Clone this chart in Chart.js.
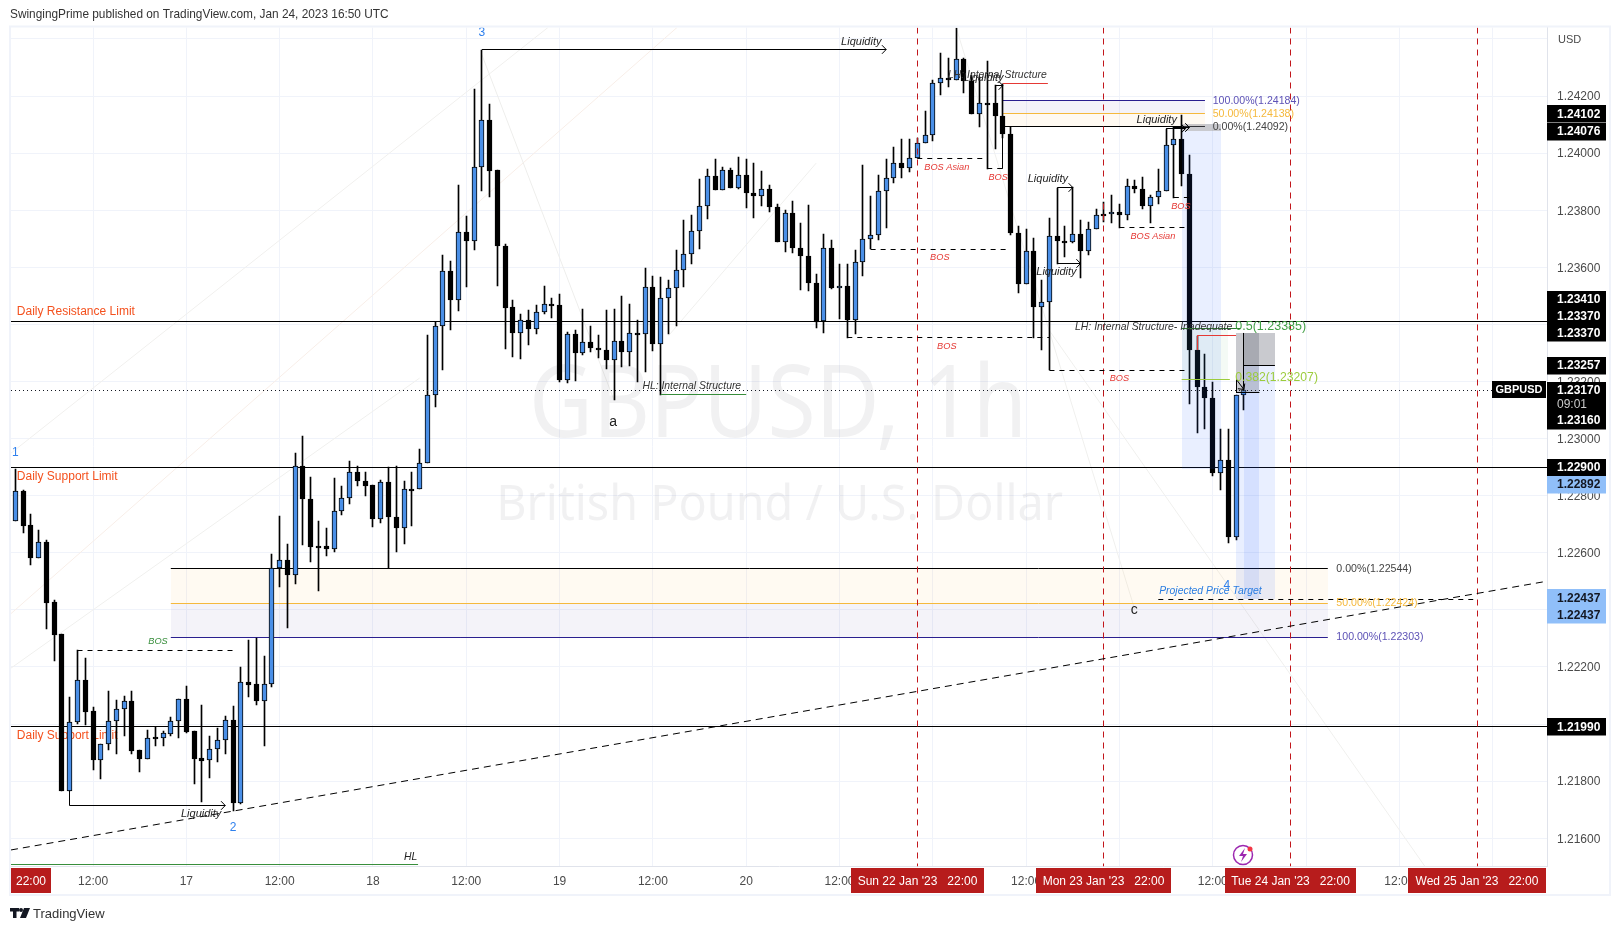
<!DOCTYPE html>
<html><head><meta charset="utf-8">
<style>html,body{margin:0;padding:0;background:#fff}canvas{display:block}</style>
<script src="https://cdn.jsdelivr.net/npm/chart.js@4/dist/chart.umd.min.js"></script>
</head><body><canvas id="c" width="1621" height="931"></canvas>
<script>
const opens=[1.22713,1.22816,1.22697,1.22582,1.22637,1.22427,1.22314,1.21767,1.22006,1.22154,1.22046,1.21874,1.21929,1.22010,1.22051,1.22080,1.21909,1.21879,1.21953,1.21950,1.21966,1.22010,1.22086,1.21976,1.21880,1.21873,1.21911,1.21943,1.22013,1.21725,1.22149,1.22139,1.22082,1.22142,1.22548,1.22576,1.22523,1.22905,1.22790,1.22625,1.22625,1.22614,1.22748,1.22793,1.22884,1.22853,1.22836,1.22720,1.22849,1.22727,1.22687,1.22825,1.22824,
1.22916,1.23154,1.23396,1.23588,1.23487,1.23725,1.23692,1.23951,1.24117,1.23942,1.23675,1.23460,1.23370,1.23417,1.23384,1.23445,1.23473,1.23467,1.23205,1.23368,1.23300,1.23340,1.23318,1.23312,1.23277,1.23343,1.23303,1.23371,1.23366,1.23532,1.23331,1.23494,1.23529,1.23592,1.23648,1.23728,1.23816,1.23921,1.23872,1.23942,1.23877,1.23924,1.23861,1.23849,1.23875,1.23812,1.23688,1.23791,1.23668,1.23640,1.23546,
1.23411,1.23669,1.23527,1.23536,1.23415,1.23620,1.23700,1.23714,1.23868,1.23914,1.23966,1.23947,1.23984,1.24036,1.24064,1.24246,1.24264,1.24257,1.24330,1.24253,1.24136,1.24176,1.24176,1.24130,1.24067,1.23721,1.23541,1.23658,1.23461,1.23478,1.23711,1.23693,1.23690,1.23718,1.23657,1.23735,1.23788,1.23788,1.23795,1.23783,1.23884,1.23875,1.23814,1.23847,1.23867,1.24029,1.24050,1.23927,1.23311,1.23182,1.23142,1.22881,1.22926,1.22656,1.23151];
const highs=[1.22892,1.22821,1.22735,1.22679,1.22644,1.22434,1.22314,1.22096,1.22259,1.22231,1.22061,1.21929,1.22116,1.22084,1.22098,1.22116,1.21909,1.21979,1.21991,1.21976,1.22023,1.22086,1.22133,1.21976,1.22067,1.21958,1.21986,1.22028,1.22063,1.22200,1.22294,1.22303,1.22238,1.22594,1.22728,1.22630,1.22949,1.23008,1.22865,1.22711,1.22686,1.22861,1.22833,1.22921,1.22905,1.22882,1.22836,1.22854,1.22901,1.22905,1.22851,1.22883,1.22965,
1.23362,1.23407,1.23642,1.23621,1.23887,1.23778,1.24223,1.24362,1.24173,1.23942,1.23683,1.23487,1.23438,1.23449,1.23467,1.23533,1.23491,1.23505,1.23372,1.23382,1.23455,1.23393,1.23362,1.23449,1.23455,1.23498,1.23470,1.23414,1.23596,1.23568,1.23566,1.23554,1.23659,1.23764,1.23782,1.23908,1.23945,1.23978,1.23951,1.23949,1.23985,1.23978,1.23964,1.23939,1.23887,1.23820,1.23799,1.23831,1.23755,1.23817,1.23578,
1.23715,1.23694,1.23610,1.23613,1.23662,1.23960,1.23848,1.23925,1.23980,1.24021,1.24048,1.24048,1.24054,1.24149,1.24257,1.24350,1.24332,1.24440,1.24333,1.24272,1.24266,1.24321,1.24237,1.24243,1.24091,1.23743,1.23733,1.23704,1.23557,1.23774,1.23879,1.23743,1.23881,1.23764,1.23757,1.23805,1.23828,1.23855,1.23823,1.23910,1.23907,1.23916,1.23855,1.23943,1.24086,1.24091,1.24134,1.23994,1.23360,1.23295,1.23197,1.23035,1.23035,1.23151,1.23183];
const lows=[1.22713,1.22670,1.22557,1.22582,1.22333,1.22222,1.21767,1.21767,1.22000,1.21997,1.21839,1.21808,1.21909,1.21895,1.21958,1.21895,1.21832,1.21877,1.21923,1.21923,1.21958,1.21952,1.21970,1.21790,1.21727,1.21811,1.21867,1.21895,1.21697,1.21720,1.22096,1.22067,1.21923,1.22130,1.22481,1.22336,1.22490,1.22627,1.22567,1.22467,1.22588,1.22602,1.22732,1.22770,1.22833,1.22798,1.22691,1.22705,1.22545,1.22602,1.22630,1.22693,1.22822,
1.22916,1.23111,1.23239,1.23379,1.23446,1.23531,1.23659,1.23867,1.23846,1.23534,1.23314,1.23286,1.23279,1.23327,1.23365,1.23438,1.23422,1.23197,1.23193,1.23202,1.23293,1.23305,1.23281,1.23244,1.23134,1.23251,1.23254,1.23198,1.23233,1.23307,1.23154,1.23368,1.23394,1.23531,1.23610,1.23663,1.23768,1.23872,1.23872,1.23877,1.23873,1.23806,1.23772,1.23813,1.23793,1.23688,1.23653,1.23650,1.23519,1.23516,1.23389,
1.23370,1.23524,1.23419,1.23354,1.23365,1.23568,1.23664,1.23694,1.23737,1.23897,1.23912,1.23935,1.23984,1.24036,1.24042,1.24205,1.24231,1.24257,1.24210,1.24136,1.24091,1.23945,1.24014,1.24052,1.23712,1.23510,1.23541,1.23354,1.23312,1.23239,1.23613,1.23636,1.23685,1.23562,1.23643,1.23735,1.23760,1.23754,1.23739,1.23764,1.23860,1.23804,1.23755,1.23820,1.23867,1.23844,1.23884,1.23122,1.23020,1.23035,1.22869,1.22819,1.22635,1.22646,1.23099];
const closes=[1.22816,1.22694,1.22582,1.22636,1.22425,1.22312,1.21767,1.22006,1.22154,1.22043,1.21874,1.21929,1.22010,1.22051,1.22079,1.21906,1.21879,1.21950,1.21948,1.21967,1.22010,1.22086,1.21972,1.21879,1.21872,1.21911,1.21943,1.22013,1.21725,1.22149,1.22138,1.22082,1.22142,1.22548,1.22576,1.22523,1.22905,1.22789,1.22621,1.22620,1.22614,1.22748,1.22793,1.22884,1.22852,1.22834,1.22719,1.22849,1.22726,1.22687,1.22825,1.22823,1.22915,
1.23154,1.23396,1.23588,1.23484,1.23725,1.23692,1.23951,1.24117,1.23939,1.23674,1.23457,1.23370,1.23417,1.23384,1.23445,1.23473,1.23464,1.23204,1.23368,1.23300,1.23340,1.23317,1.23312,1.23277,1.23343,1.23303,1.23371,1.23366,1.23532,1.23331,1.23494,1.23529,1.23592,1.23648,1.23728,1.23816,1.23921,1.23872,1.23942,1.23877,1.23924,1.23860,1.23849,1.23875,1.23811,1.23688,1.23791,1.23667,1.23639,1.23545,1.23410,
1.23669,1.23526,1.23536,1.23414,1.23620,1.23700,1.23714,1.23868,1.23914,1.23966,1.23947,1.23984,1.24036,1.24064,1.24246,1.24264,1.24257,1.24330,1.24253,1.24136,1.24176,1.24175,1.24129,1.24066,1.23720,1.23541,1.23658,1.23461,1.23478,1.23711,1.23693,1.23690,1.23718,1.23657,1.23735,1.23784,1.23784,1.23795,1.23783,1.23884,1.23874,1.23814,1.23847,1.23867,1.24029,1.24050,1.23926,1.23310,1.23181,1.23142,1.22881,1.22926,1.22656,1.23151,1.23170];

const xTickBars=[10,22,34,46,58,70,82,94,106,118,130,142,154,166,178,190];
const xTickLabels=['12:00','17','12:00','18','12:00','19','12:00','20','12:00','23','12:00','24','12:00','25','12:00',''];
const yTickPrices=[1.244,1.242,1.24,1.238,1.236,1.234,1.232,1.23,1.228,1.226,1.224,1.222,1.22,1.218,1.216];
const yTickLabels=['','1.24200','1.24000','1.23800','1.23600','1.23400','1.23200','1.23000','1.22800','1.22600','1.22400','1.22200','1.22000','1.21800','1.21600'];

const levelPrices=[1.2341,1.229,1.2199];
const lastPrice=1.2317;
const sessionBars=[116,140,164,188];
const sessionLabels=["Sun 22 Jan '23   22:00","Mon 23 Jan '23   22:00","Tue 24 Jan '23   22:00","Wed 25 Jan '23   22:00"];

const NAVY='rgba(49,27,146,.05)',GOLD='rgba(255,183,77,.07)',GREY='rgba(120,123,134,.4)',BLUE='rgba(41,98,255,.1)',PALE='rgba(76,175,80,.06)';
// fib bands sit under the candles
const bandBars0=[127,127,20,20];
const bandBars1=[153,153,168.8,168.8];
const bandTop=[1.24184,1.24138,1.22544,1.22424];
const bandBottom=[1.24138,1.24092,1.22424,1.22303];
const bandFill=[NAVY,GOLD,GOLD,NAVY];
// position tools sit over the candles
const boxBars0=[150,150,150,157,157,158,158];
const boxBars1=[155,155,156,160,160,162,162];
const boxTop=[1.24102,1.24076,1.23385,1.2337,1.2316,1.2337,1.23257];
const boxBottom=[1.24076,1.22892,1.23207,1.2316,1.22437,1.23257,1.22437];
const boxFill=[GREY,BLUE,PALE,GREY,BLUE,GREY,BLUE];

const K='#000',R='#e53935',G='#388e3c',N='#2a1f8f',O='#f5b93d',LG='#9ccc3c',DG='#2e7d32';
const fibLines=[
[127,1.24184,153,1.24184,N],[127,1.24138,153,1.24138,O],[127,1.24092,153,1.24092,K],
[20,1.22544,168.8,1.22544,K],[20,1.22424,168.8,1.22424,O],[20,1.22303,168.8,1.22303,N]];
// bar0, price0, bar1, price1, colour, kind: s solid, d dashed, a arrow, t trend
const drawn=[
[60,1.24362,112,1.24362,K,'a'],[7,1.21767,7,1.21714,K,'s'],[7,1.21714,27,1.21714,K,'a'],
[8,1.22259,28.5,1.22259,K,'d'],[83,1.23154,94,1.23154,G,'s'],[-0.55,1.21507,51.8,1.21507,G,'s'],
[116,1.2398,125,1.2398,K,'d'],[125,1.23945,127,1.23945,K,'d'],[127,1.24243,127,1.23945,K,'s'],
[127,1.24243,132.8,1.24243,R,'s'],[126,1.24237,127,1.24237,K,'a'],[126,1.24237,126,1.24176,K,'s'],
[110,1.23664,128,1.23664,K,'d'],[107,1.23354,133,1.23354,K,'d'],[133,1.23238,151,1.23238,K,'d'],
[134,1.23879,136,1.23879,K,'a'],[136,1.23879,136,1.23718,K,'s'],[134,1.23613,137,1.23613,K,'a'],
[142,1.23739,151,1.23739,K,'d'],[149,1.23844,151,1.23844,K,'d'],[148,1.24086,150.5,1.24086,K,'a'],[149,1.24091,151,1.24091,K,'a'],
[150,1.23385,157.6,1.23385,DG,'s'],[150,1.23207,156.2,1.23207,LG,'s'],
[152,1.2336,157,1.2336,R,'s'],[152,1.2336,152,1.2331,R,'s'],
[158,1.2337,158,1.23183,K,'s'],[158,1.23257,162,1.23257,K,'s'],[157,1.2316,160,1.2316,K,'s'],[157,1.23207,157,1.2316,K,'s'],[157.1,1.23205,158,1.23172,K,'a'],
[147,1.22437,187.5,1.22437,K,'d'],[-0.55,1.21559,196.5,1.22498,K,'t']];

const faintBar0=[-0.55,-0.55,-0.55,84,60,121,133];
const faintP0=[1.22949,1.22387,1.22196,1.2336,1.24345,1.2444,1.23378];
const faintBar1=[68.5,85.1,52,103,77,144,181.3];
const faintP1=[1.2444,1.2444,1.23212,1.23965,1.23135,1.22399,1.21501];
const faintColor=['#f1f0ee','#f8eee8','#f0f0ee','#f0f0ee','#eeeeec','#f0f0ee','#f0f0ee'];

const FF='"Liberation Sans"';
const IT='italic 11px '+FF,IS='italic 10.4px '+FF,IB='italic 9.2px '+FF,TX='12px '+FF,FB='10.6px '+FF;
const dailyNotes=[
['Daily Resistance Limit',0.2,1.23445,'#f4511e',TX,'left'],['Daily Support Limit',0.2,1.22868,'#f4511e',TX,'left'],['Daily Support Limit',0.2,1.21959,'#f4511e',TX,'left']];
// text, bar, price, colour, font, align
const notes=[
['Liquidity',108.8,1.24388,'#222',IT,'center'],['Liquidity',23.9,1.21686,'#222',IT,'center'],
['BOS',18.35,1.22288,G,IB,'center'],['HL: Internal Structure',87,1.23184,'#333',IS,'center'],['HL',50.85,1.21535,'#222',IS,'center'],
['1',0,1.22952,'#2f80ed',TX,'center'],['2',28,1.21636,'#2f80ed',TX,'center'],['3',60,1.24423,'#2f80ed',TX,'center'],['4',155.8,1.22483,'#2f80ed',TX,'center'],
['Projected Price Target',153.7,1.22467,'#2a7de1',IS,'center'],['c',143.9,1.22399,'#222','14px '+FF,'center'],['a',76.9,1.23057,'#222','14px '+FF,'center'],
['BOS Asian',119.8,1.23951,R,IB,'center'],['BOS',126.4,1.23916,R,IB,'center'],['LH: Internal Structure',126.3,1.24273,'#333',IS,'center'],['Liquidity',124.5,1.24262,'#222',IT,'center'],
['BOS',118.9,1.23636,R,IB,'center'],['BOS',119.8,1.23324,R,IB,'center'],['BOS',142,1.23209,R,IB,'center'],['Liquidity',132.8,1.23909,'#222',IT,'center'],['Liquidity',133.9,1.23583,'#222',IT,'center'],
['BOS Asian',146.3,1.23709,R,IB,'center'],['BOS',149.9,1.23814,R,IB,'center'],['Liquidity',146.8,1.24116,'#222',IT,'center'],['LH: Internal Structure- Inadequate',146.4,1.23391,'#333',IS,'center'],
['100.00%(1.24184)',154,1.24184,'#5d52b6',FB,'left'],['50.00%(1.24138)',154,1.24138,'#f5b93d',FB,'left'],['0.00%(1.24092)',154,1.24092,'#444',FB,'left'],
['0.00%(1.22544)',169.9,1.22544,'#444',FB,'left'],['50.00%(1.22424)',169.9,1.22424,'#f5b93d',FB,'left'],['100.00%(1.22303)',169.9,1.22303,'#5d52b6',FB,'left'],
['0.5(1.23385)',156.9,1.23392,'#43a047','12.5px '+FF,'left'],['0.382(1.23207)',156.9,1.23212,'#9ccc3c','12.2px '+FF,'left']];

// text, price, shift, background, foreground
const priceTags=[['1.24102',1.24102,-10,'#000','#fff'],['1.24076',1.24076,0,'#000','#fff'],['1.23410',1.2341,-22.5,'#000','#fff'],['1.23370',1.2337,-17,'#000','#fff'],['1.23370',1.2337,0,'#000','#fff'],['1.23257',1.23257,0,'#000','#fff'],['1.23170',1.2317,0,'#000','#fff'],['09:01',1.2317,14.5,'#000','#ccc'],['1.23160',1.2316,27.7,'#000','#fff'],['1.22900',1.229,0,'#000','#fff'],['1.22892',1.22892,14.8,'#90bff9','#131722'],['1.22437',1.22437,-1.4,'#90bff9','#131722'],['1.22437',1.22437,15.6,'#90bff9','#131722'],['1.21990',1.2199,0,'#000','#fff']];

const UP='#4a8fe7',DOWN='#000';
const idx=opens.map((_,i)=>i);
const colors=idx.map(i=>closes[i]>=opens[i]?UP:DOWN);
const snap=v=>Math.floor(v)+.5;

const crisp={id:'crisp',beforeDatasetsDraw(ch){
  ch.getSortedVisibleDatasetMetas().forEach(m=>m.data.forEach(el=>{
    el.x=Math.floor(el.x)+.5;
    let a=Math.round(Math.min(el.y,el.base)),b=Math.round(Math.max(el.y,el.base));
    if(b-a<2)b=a+2;
    el.y=a;el.base=b;
  }));
}};

const under={id:'under',beforeDatasetsDraw(ch){
  const c=ch.ctx,a=ch.chartArea,X=v=>ch.scales.x.getPixelForValue(v),Y=v=>ch.scales.y.getPixelForValue(v);
  c.save();c.beginPath();c.rect(a.left,a.top,a.width,a.height);c.clip();
  faintBar0.forEach((b,i)=>{c.strokeStyle=faintColor[i];c.lineWidth=1;c.beginPath();c.moveTo(X(b),Y(faintP0[i]));c.lineTo(X(faintBar1[i]),Y(faintP1[i]));c.stroke();});
  c.fillStyle='rgba(42,46,57,.065)';c.textAlign='center';c.textBaseline='alphabetic';
  c.font='100px "Noto Sans"';c.fillText('GBPUSD, 1h',X(98.1),Y(1.23006),498);
  c.font='50px "Noto Sans"';c.fillText('British Pound / U.S. Dollar',X(98.3),Y(1.22714),567);
  bandFill.forEach((f,i)=>{const x0=Math.round(X(bandBars0[i])),x1=Math.round(X(bandBars1[i])),y0=Math.round(Y(bandTop[i])),y1=Math.round(Y(bandBottom[i]));c.fillStyle=f;c.fillRect(x0,y0,x1-x0,y1-y0);});
  c.lineWidth=1;
  levelPrices.forEach(p=>{c.strokeStyle='#000';c.beginPath();c.moveTo(a.left,snap(Y(p)));c.lineTo(a.right,snap(Y(p)));c.stroke();});
  fibLines.forEach(s=>{c.strokeStyle=s[4];c.beginPath();c.moveTo(X(s[0]),snap(Y(s[1])));c.lineTo(X(s[2]),snap(Y(s[3])));c.stroke();});
  c.textBaseline='middle';
  dailyNotes.forEach(n=>{c.fillStyle=n[3];c.font=n[4];c.textAlign=n[5];c.fillText(n[0],X(n[1]),Y(n[2]));});
  c.restore();
}};

const over={id:'over',afterDatasetsDraw(ch){
  const c=ch.ctx,a=ch.chartArea,X=v=>ch.scales.x.getPixelForValue(v),Y=v=>ch.scales.y.getPixelForValue(v);
  c.save();c.beginPath();c.rect(a.left,a.top,a.width,a.height);c.clip();
  boxFill.forEach((f,i)=>{const x0=Math.round(X(boxBars0[i])),x1=Math.round(X(boxBars1[i])),y0=Math.round(Y(boxTop[i])),y1=Math.round(Y(boxBottom[i]));c.fillStyle=f;c.fillRect(x0,y0,x1-x0,y1-y0);});
  c.lineWidth=1;
  c.strokeStyle='#131722';c.setLineDash([1,3]);c.beginPath();c.moveTo(a.left,snap(Y(lastPrice)));c.lineTo(a.right,snap(Y(lastPrice)));c.stroke();c.setLineDash([]);
  sessionBars.forEach(b=>{c.strokeStyle='#c2161b';c.setLineDash([6,5]);c.beginPath();c.moveTo(snap(X(b)),a.top);c.lineTo(snap(X(b)),a.bottom);c.stroke();c.setLineDash([]);});
  drawn.forEach(s=>{
    let x0=X(s[0]),y0=Y(s[1]),x1=X(s[2]),y1=Y(s[3]);const k=s[5];
    if(k!=='t'){if(s[1]===s[3]){y0=y1=snap(y0);}if(s[0]===s[2]){x0=x1=snap(x0);}}
    c.strokeStyle=s[4];c.lineWidth=1;c.setLineDash(k==='d'?[5,5]:k==='t'?[7,5]:[]);
    c.beginPath();c.moveTo(x0,y0);c.lineTo(x1,y1);c.stroke();c.setLineDash([]);
    if(k==='a'){const t=Math.atan2(y1-y0,x1-x0),h=6;c.beginPath();c.moveTo(x1-h*Math.cos(t-.8),y1-h*Math.sin(t-.8));c.lineTo(x1,y1);c.lineTo(x1-h*Math.cos(t+.8),y1-h*Math.sin(t+.8));c.stroke();}
  });
  c.textBaseline='middle';
  notes.forEach(n=>{c.fillStyle=n[3];c.font=n[4];c.textAlign=n[5];c.fillText(n[0],X(n[1]),Y(n[2]));});
  c.restore();
},
afterDraw(ch){
  const c=ch.ctx,Y=v=>ch.scales.y.getPixelForValue(v);
  c.save();
  c.strokeStyle='#f0f3fa';c.lineWidth=2;c.strokeRect(10,26.5,1600,868.5);
  c.textBaseline='middle';
  c.textAlign='left';
  priceTags.forEach(t=>{const y=Y(t[1])+t[2];c.fillStyle=t[3];c.fillRect(1547,Math.round(y-8.5),59,17.5);});
  priceTags.forEach(t=>{const y=Y(t[1])+t[2];c.fillStyle=t[4];c.font=(t[4]==='#ccc'?'':'bold ')+'12px '+FF;c.fillText(t[0],1557,y+.5);});
  c.fillStyle='#000';c.fillRect(1492,381,54,17);c.fillStyle='#fff';c.font='bold 11px '+FF;c.textAlign='center';c.fillText('GBPUSD',1519,390);
  c.fillStyle='#4a4a4a';c.font='11px '+FF;c.textAlign='left';c.fillText('USD',1558,40);
  c.fillStyle='#b71c1c';c.fillRect(11,868,40,25);
  [[851,133],[1036,135],[1225,131],[1408,138]].forEach(r=>c.fillRect(r[0],868,r[1],25));
  c.fillStyle='#fff';c.font='12px '+FF;c.textAlign='center';
  c.fillText('22:00',31,882);
  sessionLabels.forEach((t,i)=>c.fillText(t,[917.5,1103.5,1290.5,1477][i],882));
  c.fillStyle='#333';c.textAlign='left';c.font='11.85px '+FF;
  c.fillText('SwingingPrime published on TradingView.com, Jan 24, 2023 16:50 UTC',10,15);
  c.font='13px '+FF;c.fillText('TradingView',33,914);
  c.fillStyle='#131722';c.fillRect(10,908,9,3.5);c.fillRect(13,908,3.5,10);
  c.beginPath();c.arc(21,910,2,0,7);c.fill();
  c.beginPath();c.moveTo(24,908);c.lineTo(30,908);c.lineTo(26,918);c.lineTo(20,918);c.fill();
  c.strokeStyle='#9c27b0';c.lineWidth=1.5;c.beginPath();c.arc(1243,855,9.5,0,7);c.stroke();
  c.fillStyle='#9c27b0';c.beginPath();c.moveTo(1245,848);c.lineTo(1239,856);c.lineTo(1243,856);c.lineTo(1241,862);c.lineTo(1247,854);c.lineTo(1243,854);c.fill();
  c.fillStyle='#f23645';c.beginPath();c.arc(1250,849,2.5,0,7);c.fill();
  c.restore();
}};

new Chart(document.getElementById('c'),{
  type:'bar',
  data:{datasets:[
    {label:'Wick',data:idx.map(i=>({x:i,y:[lows[i],highs[i]]})),backgroundColor:'#000',borderWidth:0,barThickness:1,grouped:false,order:2},
    {label:'Body',data:idx.map(i=>({x:i,y:[opens[i],closes[i]]})),backgroundColor:colors,borderColor:'#000',borderWidth:1,borderSkipped:false,barThickness:5,grouped:false,order:1}
  ]},
  options:{
    responsive:false,animation:false,events:[],
    layout:{padding:{left:11,top:27.5,right:0,bottom:0}},
    plugins:{legend:{display:false},tooltip:{enabled:false},title:{display:false}},
    scales:{
      x:{type:'linear',offset:false,min:-0.553,max:196.99,position:'bottom',
        grid:{offset:false,color:'#f0f3fa',drawTicks:false},border:{color:'#e0e3eb',display:true},
        afterBuildTicks(s){s.ticks=xTickBars.map(v=>({value:v}));},
        afterFit(s){s.height=64.5;},
        ticks:{autoSkip:false,maxRotation:0,minRotation:0,padding:8,color:'#4a4a4a',font:{family:'Liberation Sans',size:12},
          callback(v){const k=xTickBars.indexOf(v);return k<0?'':xTickLabels[k];}}},
      y:{type:'linear',position:'right',min:1.21501,max:1.2444,
        grid:{color:'#f0f3fa',drawTicks:false},border:{color:'#e0e3eb',display:true},
        afterBuildTicks(s){s.ticks=yTickPrices.map(v=>({value:v}));},
        afterFit(s){s.width=74;},
        ticks:{padding:10,labelOffset:1,color:'#4a4a4a',font:{family:'Liberation Sans',size:12},
          callback(v){const k=yTickPrices.findIndex(p=>Math.abs(p-v)<1e-6);return k<0?'':yTickLabels[k];}}}
    }
  },
  plugins:[under,crisp,over]
});
</script></body></html>
